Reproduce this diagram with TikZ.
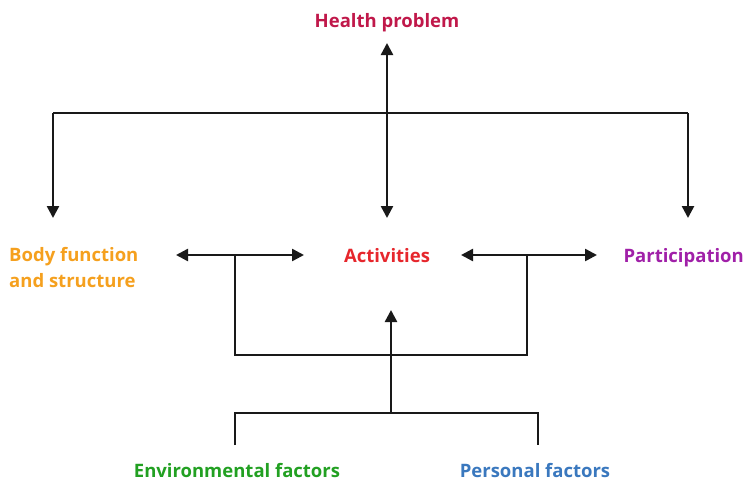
\documentclass[tikz,border=0pt]{standalone}
\usepackage{fontspec}
\setmainfont{Open Sans}
\usetikzlibrary{arrows.meta}
\definecolor{chealth}{HTML}{C0184A}
\definecolor{cbody}{HTML}{F5A01E}
\definecolor{cact}{HTML}{E6262C}
\definecolor{cpart}{HTML}{A020A8}
\definecolor{cenv}{HTML}{22A022}
\definecolor{cpers}{HTML}{3A78BE}
\begin{document}
\begin{tikzpicture}[x=1pt,y=-1pt,
  lbl/.style={font=\fontsize{18.5}{25.5}\selectfont\bfseries, inner sep=0pt},
  conn/.style={line width=2.5pt, black!90, line cap=butt},
  tip/.style={-{Triangle[length=12pt,width=12pt]}},
  dtip/.style={{Triangle[length=12pt,width=12pt]}-{Triangle[length=12pt,width=12pt]}}]
\useasboundingbox (0,0) rectangle (746,480);
\node[lbl, text=chealth, anchor=base] (hp) at (387,27) {Health problem};
\node[lbl, text=cbody, anchor=base west, align=left] (bf) at (9,287) {Body function\\and structure};
\node[lbl, text=cact, anchor=base] (act) at (387,262) {Activities};
\node[lbl, text=cpart, anchor=base east] (par) at (744,262) {Participation};
\node[lbl, text=cenv, anchor=base] (env) at (237,477) {Environmental factors};
\node[lbl, text=cpers, anchor=base] (pers) at (535,477) {Personal factors};
% top tree
\coordinate (tL) at (53,113);
\coordinate (tR) at (688,113);
\coordinate (tC) at (387,113);
\coordinate (hpTip) at (387,43);
\coordinate (actTop) at (387,218);
\coordinate (bfTop) at (53,218);
\coordinate (parTop) at (688,218);
\draw[conn] (tL) -- (tR);
\draw[conn, tip] (tC) -- (hpTip);
\draw[conn, tip] (tC) -- (actTop);
\draw[conn, tip] (tL) -- (bfTop);
\draw[conn, tip] (tR) -- (parTop);
% middle double arrows
\coordinate (la) at (176,255);
\coordinate (lb) at (304,255);
\coordinate (ra) at (461,255);
\coordinate (rb) at (597,255);
\coordinate (lj) at (235,255);
\coordinate (rj) at (527,255);
\draw[conn, dtip] (la) -- (lb);
\draw[conn, dtip] (ra) -- (rb);
\draw[conn] (lj) |- (527,355) -- (rj);
% upward arrow
\coordinate (bj) at (391,413);
\coordinate (upTip) at (391,310);
\draw[conn, tip] (bj) -- (upTip);
% bottom bracket
\draw[conn] (235,445) |- (538,413) -- (538,445);
\end{tikzpicture}
\end{document}
